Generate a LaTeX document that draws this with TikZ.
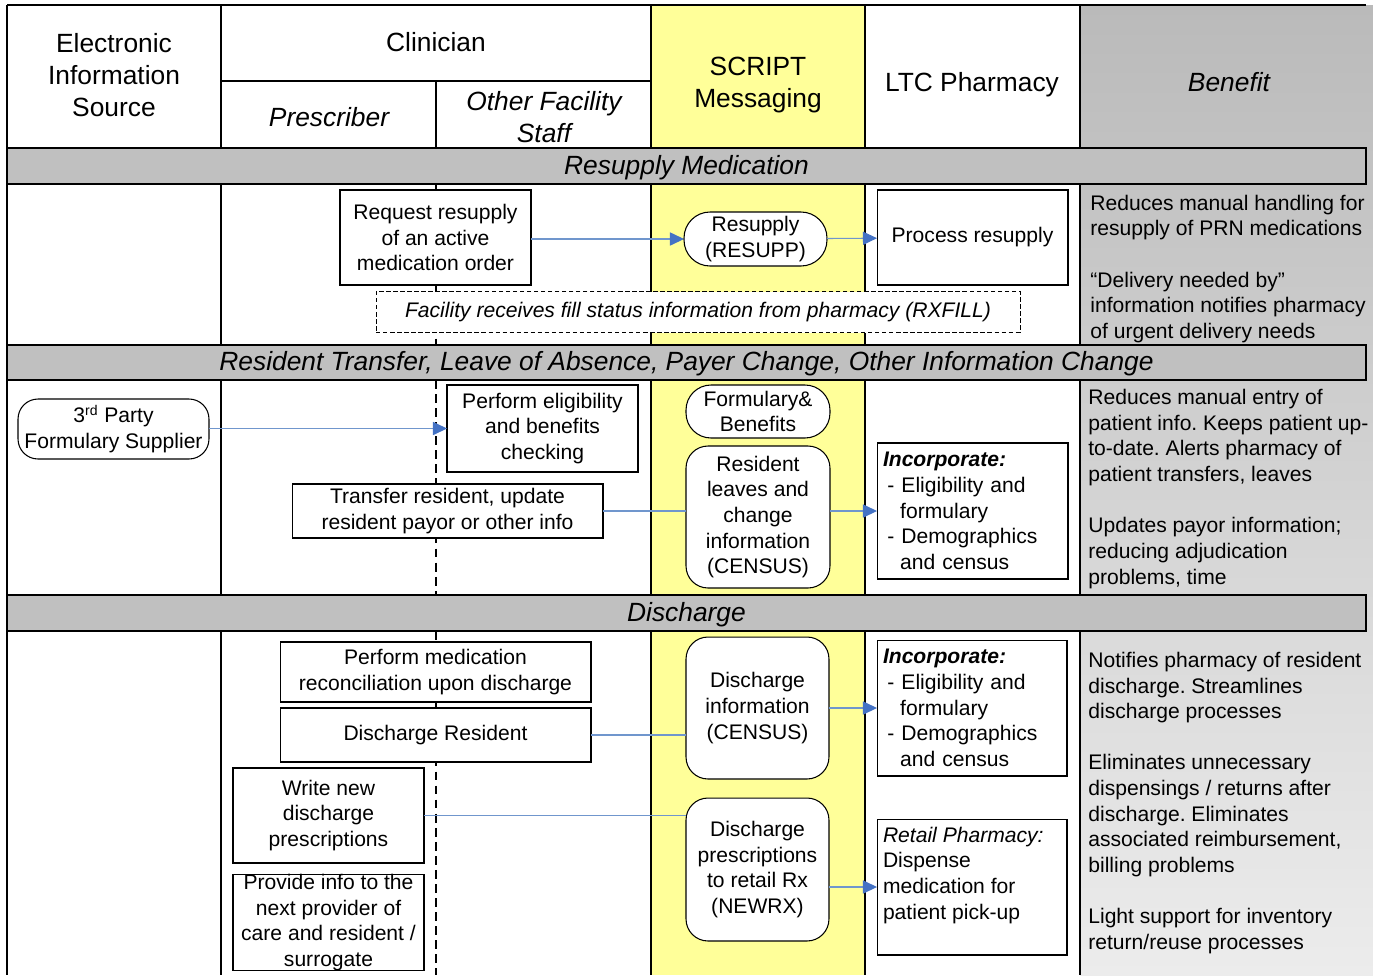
\documentclass[tikz,border=0pt]{standalone}
\usepackage{fontspec}
\setmainfont{Liberation Sans}
\usetikzlibrary{arrows.meta,calc}
\frenchspacing

\definecolor{scriptyellow}{RGB}{255,255,153}
\definecolor{bandgray}{RGB}{192,192,192}
\definecolor{gaintop}{RGB}{186,186,186}
\definecolor{gainbot}{RGB}{236,236,236}
\definecolor{flowblue}{RGB}{112,150,205}
\definecolor{tipblue}{RGB}{68,114,196}

\begin{document}
\begin{tikzpicture}[x=0.02cm,y=-0.02cm,
  box/.style={draw,fill=white,line width=0.6pt,inner sep=0pt,outer sep=0pt,align=center,font=\fontsize{12}{14.6}\selectfont},
  msg/.style={box,rounded corners=0.44cm},
  listbox/.style={box,align=left,text width=3.58cm,inner xsep=0.12cm},
  head/.style={inner sep=0pt,align=center,font=\fontsize{15}{18}\selectfont},
  band/.style={draw,fill=bandgray,line width=0.6pt},
  bandtitle/.style={inner sep=0pt,font=\fontsize{15}{18}\selectfont\itshape},
  gain/.style={anchor=west,inner sep=0pt,align=left,font=\fontsize{12}{14.6}\selectfont},
  rule/.style={line width=0.6pt},
  lane/.style={line width=1.3pt,dash pattern=on 5pt off 3pt},
  flow/.style={draw=flowblue,line width=0.6pt},
  tip/.style={flow,-{Triangle[length=8pt,width=7.5pt,color=tipblue]}}
  ]

  \useasboundingbox (0,0) rectangle (1373,975);

  % lanes and grid
  \fill[scriptyellow] (651,5) rectangle (865,975);
  \shade[top color=gaintop,bottom color=gainbot] (1080,5) rectangle (1373,975);
  \draw[rule] (7,5) -- (1366,5);
  \foreach \x in {7,221,651,865,1080} \draw[rule] (\x,5) -- (\x,975);
  \draw[rule] (221,81) -- (651,81) (436,81) -- (436,148);
  \foreach \ya/\yb in {184/345,380/595,631/975} \draw[lane] (436,\ya) -- (436,\yb);

  % headers
  \node[head] (hsrc) at (114,75) {Electronic\\Information\\Source};
  \node[head] (hclin) at (436,42) {Clinician};
  \node[head,font=\fontsize{15}{18}\selectfont\itshape] (hpres) at (329,117) {Prescriber};
  \node[head,font=\fontsize{15}{18}\selectfont\itshape] (hstaff) at (544,117) {Other Facility\\Staff};
  \node[head] (hscript) at (758,85) {SCRIPT\\Messaging};
  \node[head] (hltc) at (972,85) {LTC Pharmacy};
  \node[head,font=\fontsize{15}{18}\selectfont\itshape] (hgain) at (1229,82) {Benefit};

  % bands
  \draw[band] (7,148) rectangle (1366,184);
  \node[bandtitle] (bresupp) at (686.5,168) {Resupply Medication};
  \draw[band] (7,345) rectangle (1366,380);
  \node[bandtitle] (btrans) at (686.5,364) {Resident Transfer, Leave of Absence, Payer Change, Other Information Change};
  \draw[band] (7,595) rectangle (1366,631);
  \node[bandtitle] (bdisch) at (686.5,615) {Discharge};

  % resupply medication
  \node[box,minimum width=3.82cm,minimum height=1.9cm] (req) at (435.5,237.5) {Request resupply\\of an active\\medication order};
  \node[msg,rounded corners=0.52cm,minimum width=2.86cm,minimum height=1.08cm] (resupp) at (755.5,239) {Resupply\\(RESUPP)};
  \node[box,minimum width=3.82cm,minimum height=1.9cm] (procres) at (972.5,237.5) {Process resupply};
  \node[box,line width=0.5pt,dash pattern=on 2.5pt off 1.5pt,minimum width=12.88cm,minimum height=0.82cm,font=\fontsize{12}{14.6}\selectfont\itshape] (fillstat) at (698,312) {Facility receives fill status information from pharmacy (RXFILL)};
  \node[gain] (gainres) at (1090,269) {Reduces manual handling for\\resupply of PRN medications\\[14.6pt]“Delivery needed by”\\information notifies pharmacy\\of urgent delivery needs};

  \draw[tip] (req.east |- resupp.west) -- (resupp.west);
  \draw[tip] (resupp) -- (procres);

  % transfer, leave, payer change
  \node[msg,rounded corners=0.4cm,minimum width=3.82cm,minimum height=1.2cm] (party) at (113.5,429) {3\textsuperscript{rd} Party\\Formulary Supplier};
  \node[box,minimum width=3.82cm,minimum height=1.74cm] (elig) at (542.5,428.5) {Perform eligibility\\and benefits\\checking};
  \node[box,minimum width=6.22cm,minimum height=1.08cm] (transfer) at (447.5,511) {Transfer resident, update\\resident payor or other info};
  \node[msg,rounded corners=0.5cm,minimum width=2.88cm,minimum height=1.06cm] (formben) at (758,411.5) {Formulary\&\\Benefits};
  \node[msg,minimum width=2.88cm,minimum height=2.84cm] (census) at (758,517) {Resident\\leaves and\\change\\information\\(CENSUS)};
  \node[listbox,minimum width=3.82cm,minimum height=2.72cm] (incorp1) at (972.5,511) {\textbf{\textit{Incorporate:}}\\\hspace*{2.5pt}- Eligibility and\\\hspace*{9.8pt}formulary\\\hspace*{2.5pt}- Demographics\\\hspace*{9.8pt}and census};
  \node[gain] (gaincensus) at (1088,489) {Reduces manual entry of\\patient info. Keeps patient up-\\to-date. Alerts pharmacy of\\patient transfers, leaves\\[14.6pt]Updates payor information;\\reducing adjudication\\problems, time};

  \draw[tip] (party.east |- elig.west) -- (elig.west);
  \draw[flow] (transfer.east) -- (transfer.east -| census.west);
  \draw[tip] (incorp1.west -| census.east) -- (incorp1.west);

  % discharge
  \node[box,minimum width=6.22cm,minimum height=1.2cm] (medrec) at (435.5,672) {Perform medication\\reconciliation upon discharge};
  \node[box,minimum width=6.22cm,minimum height=1.08cm] (dischres) at (435.5,735) {Discharge Resident};
  \node[box,minimum width=3.82cm,minimum height=1.9cm] (writerx) at (328.5,815.5) {Write new\\discharge\\prescriptions};
  \node[box,minimum width=3.82cm,minimum height=1.9cm] (provinfo) at (328.5,922.5) {Provide info to the\\next provider of\\care and resident /\\surrogate};
  \node[msg,minimum width=2.86cm,minimum height=2.84cm] (dischinfo) at (757.5,708) {Discharge\\information\\(CENSUS)};
  \node[msg,minimum width=2.86cm,minimum height=2.86cm] (dischrx) at (757.5,869.5) {Discharge\\prescriptions\\to retail Rx\\(NEWRX)};
  \node[listbox,text width=3.56cm,minimum width=3.8cm,minimum height=2.72cm] (incorp2) at (972,708) {\textbf{\textit{Incorporate:}}\\\hspace*{2.5pt}- Eligibility and\\\hspace*{9.8pt}formulary\\\hspace*{2.5pt}- Demographics\\\hspace*{9.8pt}and census};
  \node[box,minimum width=3.8cm,minimum height=2.72cm] (retail) at (972,887) {\parbox[c][2.4cm][t]{3.56cm}{\raggedright\textit{Retail Pharmacy:}\\Dispense\\medication for\\patient pick-up}};
  \node[gain] (gaindisch) at (1088,803) {Notifies pharmacy of resident\\discharge. Streamlines\\discharge processes\\[14.6pt]Eliminates unnecessary\\dispensings / returns after\\discharge. Eliminates\\associated reimbursement,\\billing problems\\[14.6pt]Light support for inventory\\return/reuse processes};

  \draw[flow] (dischres.east) -- (dischres.east -| dischinfo.west);
  \draw[flow] (writerx.east) -- (writerx.east -| dischrx.west);
  \draw[tip] (dischinfo.east) -- (incorp2.west);
  \draw[tip] (retail.west -| dischrx.east) -- (retail.west);

\end{tikzpicture}
\end{document}
